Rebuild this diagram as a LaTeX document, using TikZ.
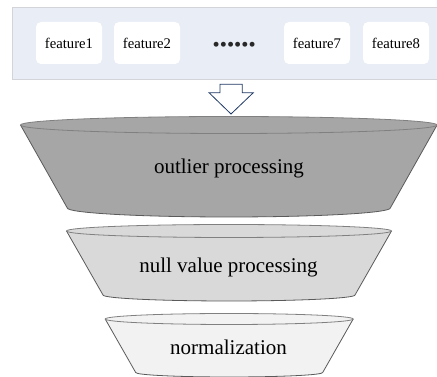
\documentclass[tikz,border=0pt]{standalone}
\usepackage{fontspec}
\setmainfont{Liberation Serif}
\definecolor{panelfill}{RGB}{233,237,246}
\definecolor{panelline}{RGB}{210,212,218}
\definecolor{arrowline}{RGB}{32,56,100}
\definecolor{rimline}{RGB}{128,128,128}
\definecolor{sideline}{RGB}{90,90,90}
\definecolor{stageA}{RGB}{166,166,166}
\definecolor{stageB}{RGB}{217,217,217}
\definecolor{stageC}{RGB}{242,242,242}
\definecolor{dotcol}{RGB}{40,40,40}
\tikzset{
  featbox/.style={fill=white, rounded corners=5pt, minimum width=66pt, minimum height=42pt, inner sep=0pt,
                  font=\fontsize{14.7}{16}\selectfont},
  stagelabel/.style={font=\fontsize{21}{24}\selectfont, inner sep=0pt},
}
% one funnel stage: #1 fill, #2 centre x, #3 top y, #4 top x-radius, #5 top y-radius,
% #6 bottom y, #7 bottom x-radius, #8 bottom y-radius
\newcommand{\funnelstage}[8]{%
  \fill[#1] (#2-#4,#3) arc[start angle=180, end angle=0, x radius=#4, y radius=#5]
     -- (#2+#7,#6) arc[start angle=0, end angle=-180, x radius=#7, y radius=#8] -- cycle;
  \draw[sideline, line width=0.8pt, line join=round] (#2-#4,#3) -- (#2-#7,#6)
     arc[start angle=180, end angle=360, x radius=#7, y radius=#8] -- (#2+#4,#3);
  \draw[rimline, line width=0.8pt] (#2,#3) ellipse[x radius=#4, y radius=#5];
}
\begin{document}
\begin{tikzpicture}[x=1pt, y=1pt]
  \useasboundingbox (0,0) rectangle (437,377);

  % feature panel
  \node[draw=panelline, fill=panelfill, line width=0.8pt, minimum width=430pt, minimum height=72pt,
        inner sep=0pt, anchor=north west] (panel) at (12,370) {};
  \node[featbox] (f1) at (69,334) {feature1};
  \node[featbox] (f2) at (147,334) {feature2};
  \node[font=\fontsize{20.5}{22}\selectfont, text=dotcol, inner sep=0pt] (dots) at (234.2,330.6) {••••••};
  \node[featbox] (f7) at (317,334) {feature7};
  \node[featbox] (f8) at (396,334) {feature8};

  % hollow block arrow down to the funnel
  \coordinate (tip) at (231,263);
  \draw[arrowline, line width=0.8pt, fill=white, line join=miter]
    (220,292.7) -- (242.3,292.7) -- (242.3,284.3) -- (253.3,284.3) -- (tip)
    -- (209,284.3) -- (220,284.3) -- cycle;

  % funnel stages
  \funnelstage{stageA}{228.8}{252}{208.3}{8.5}{169}{161.5}{9}
  \node[stagelabel] (s1) at (229,209) {outlier processing};

  \funnelstage{stageB}{229}{146}{162.5}{6.5}{82}{126}{6}
  \node[stagelabel] (s2) at (228.5,110) {null value processing};

  \funnelstage{stageC}{229.2}{58}{124}{5.5}{4.5}{93.5}{4.5}
  \node[stagelabel] (s3) at (228.5,30) {normalization};
\end{tikzpicture}
\end{document}
